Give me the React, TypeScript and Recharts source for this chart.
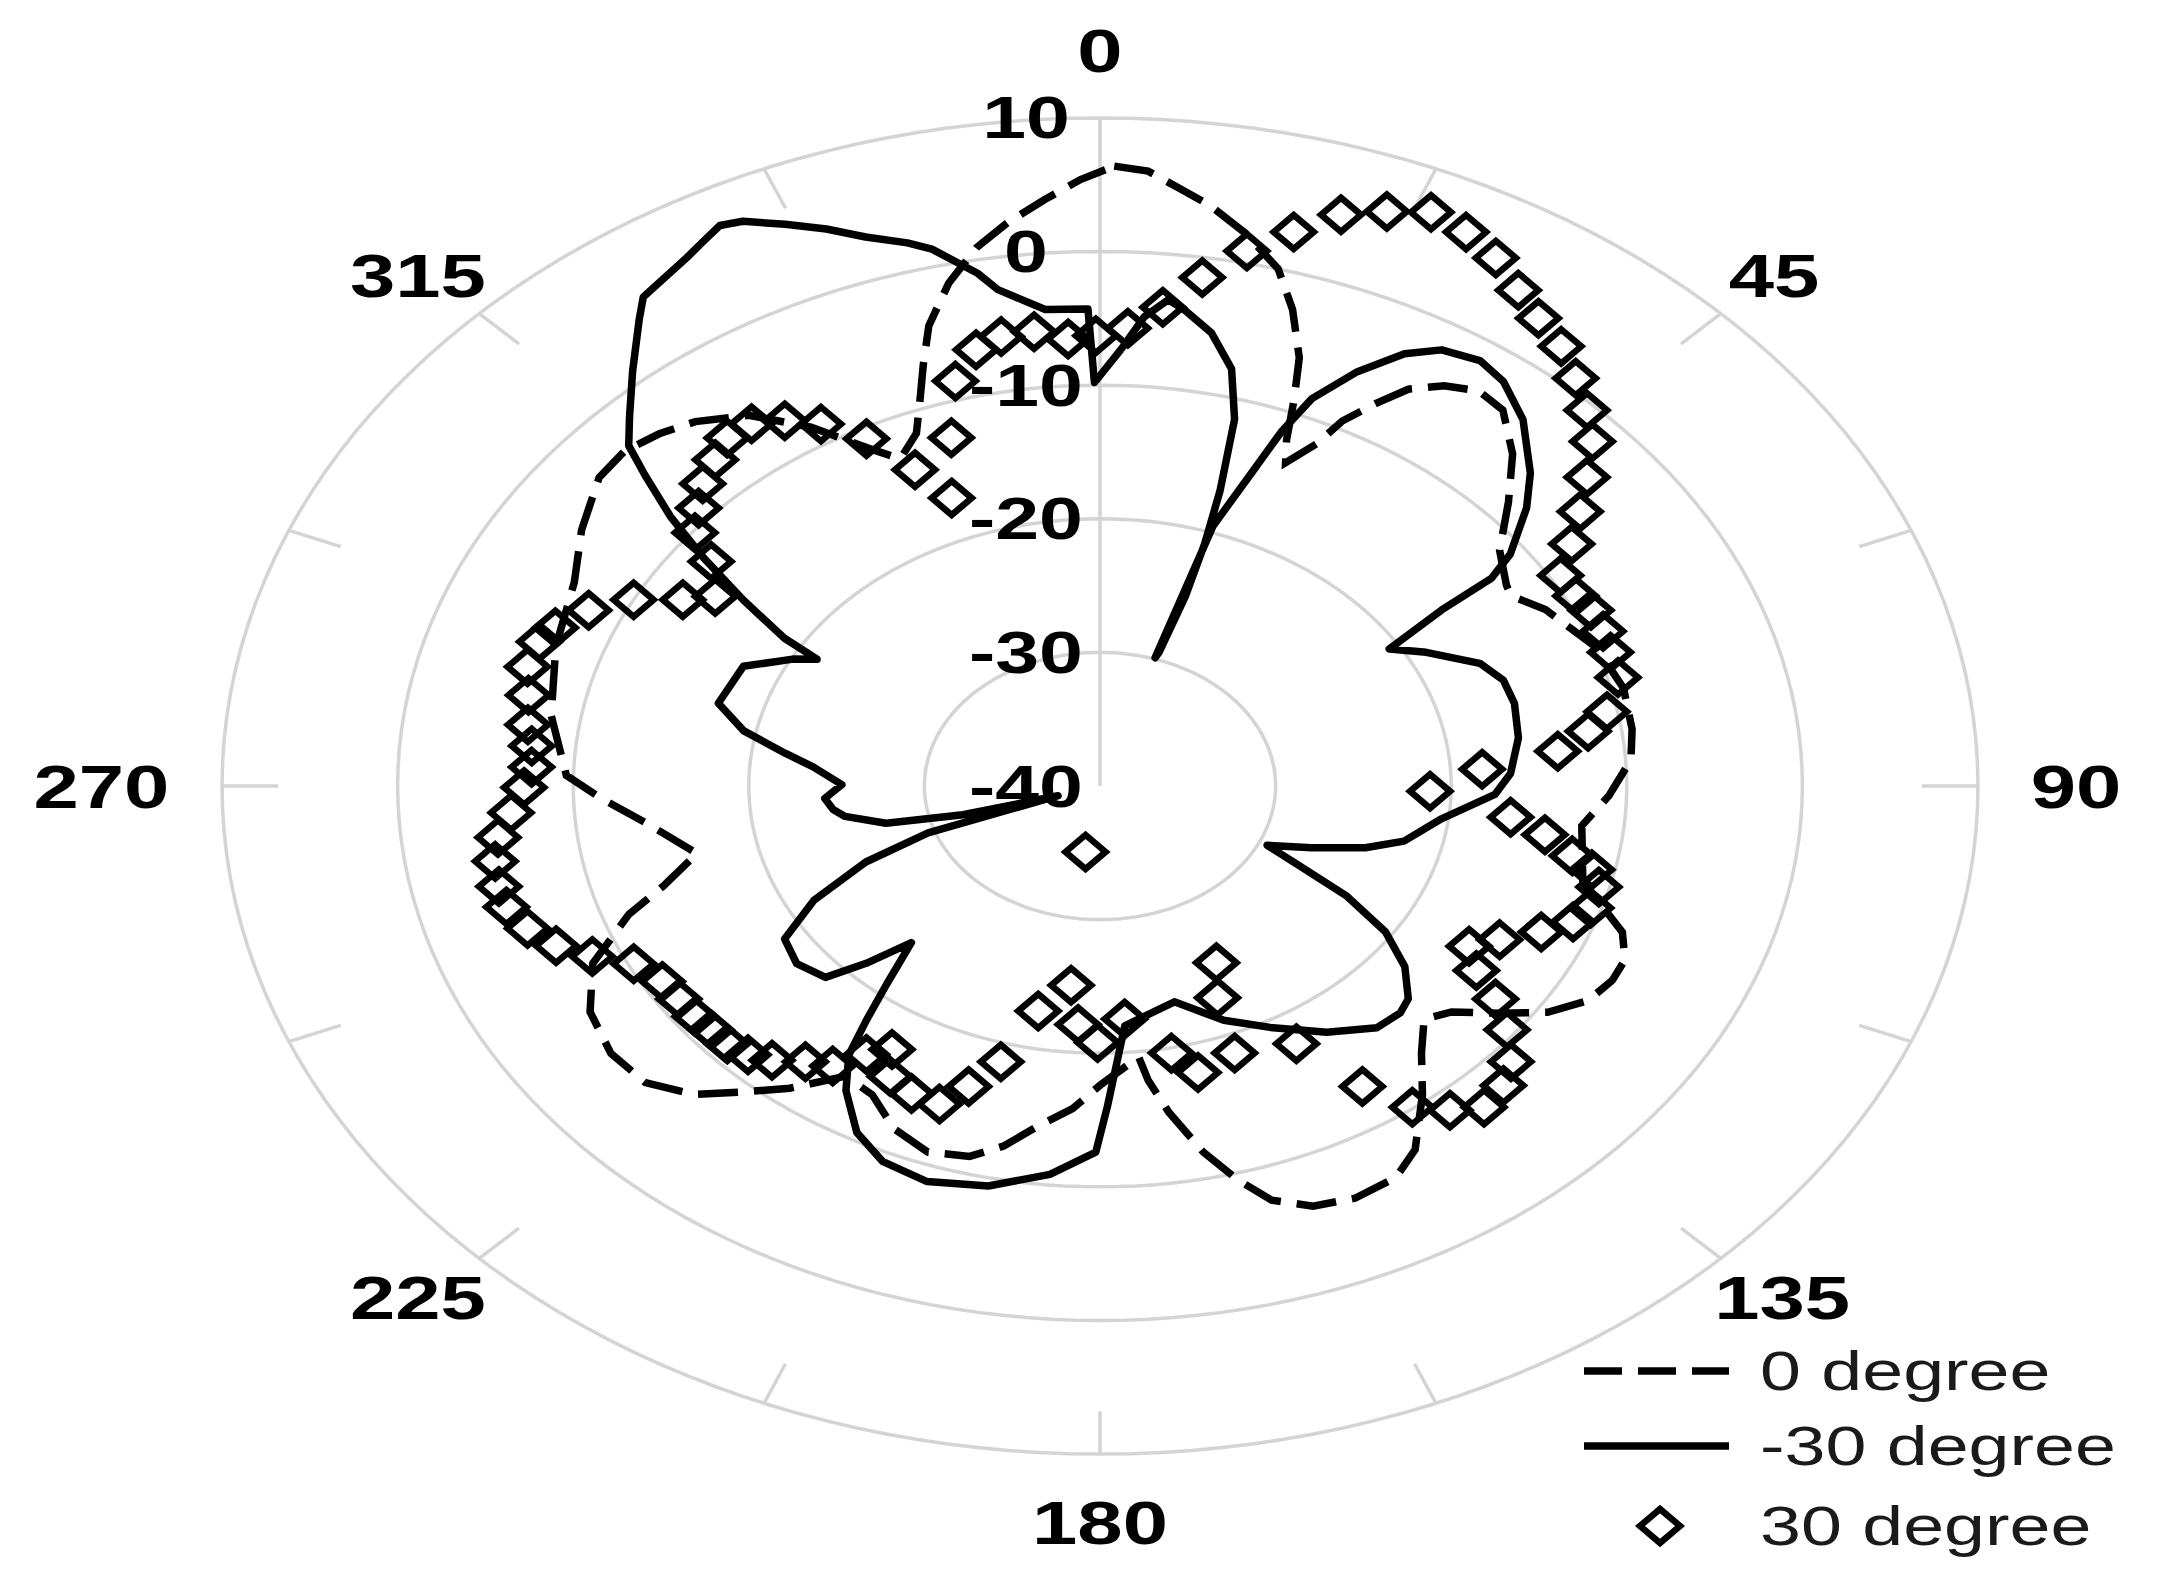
import React from 'react';
import { ComposedChart, Line, Scatter, XAxis, YAxis, Legend } from 'recharts';

// ---------- data (angle in degrees clockwise from top, gain in dB) ----------
const ANGLE_LABELS = [0, 45, 90, 135, 180, 225, 270, 315];
const RADIAL_TICKS = [-40, -30, -20, -10, 0, 10];
const SERIES_NAMES = ['0 degree', '-30 degree', '30 degree'];

const zeroDegree: [number, number][] = [
  [1.0, 6.4], [3.4, 6.1], [5.9, 4.9], [8.2, 3.9], [11.3, 2.2], [14.7, 0.0], [17.1, -2.7], [19.5, -6.0],
  [20.9, -9.0], [22.3, -12.0], [23.6, -13.6], [25.7, -11.6], [26.8, -9.4], [28.8, -7.3], [30.6, -5.5],
  [33.2, -4.2], [36.1, -3.4], [39.2, -3.7], [43.4, -5.8], [47.6, -8.5], [52.2, -11.2], [57.0, -12.4],
  [58.7, -12.6], [62.5, -11.4], [69.8, -9.9], [76.2, -9.3], [82.0, -9.4], [86.3, -9.7], [91.4, -11.0],
  [96.2, -12.4], [104.5, -11.6], [110.2, -8.3], [113.5, -7.4], [116.5, -7.4], [120.0, -7.9], [123.6, -9.4],
  [126.8, -11.6], [130.2, -13.8], [133.4, -14.6], [137.5, -12.9], [141.5, -10.5], [146.6, -7.4], [150.1, -6.2],
  [154.8, -5.9], [158.9, -6.3], [162.5, -7.5], [165.1, -9.5], [167.9, -12.0], [170.9, -15.3], [172.9, -17.8],
  [173.8, -19.6], [180.0, -17.6], [183.7, -15.8], [187.9, -14.3], [191.5, -12.5], [195.0, -11.3], [199.7, -10.9],
  [204.6, -11.8], [209.3, -13.5], [213.7, -13.9], [218.0, -11.3], [221.9, -9.2], [225.1, -7.3], [229.4, -5.9],
  [234.3, -5.7], [239.8, -6.4], [245.3, -8.2], [250.3, -11.5], [253.2, -14.0], [257.6, -16.5], [263.9, -14.0],
  [268.1, -11.6], [271.5, -9.6], [279.6, -8.3], [288.6, -7.3], [297.0, -6.4], [303.0, -4.8], [309.0, -3.3],
  [312.8, -3.1], [316.4, -3.6], [319.8, -4.3], [324.2, -5.8], [328.5, -8.5], [332.3, -11.4], [335.1, -13.0],
  [338.4, -11.6], [340.5, -9.3], [342.3, -6.9], [344.2, -4.2], [347.1, -1.4], [350.1, 0.9], [352.9, 2.5],
  [355.9, 4.0], [358.6, 5.4],
];

const minusThirtyDegree: [number, number][] = [
  [2.1, -7.3], [4.1, -4.8], [6.1, -3.4], [7.6, -4.0], [10.6, -5.5], [13.5, -7.9], [15.6, -11.5], [17.2, -16.9],
  [18.2, -20.9], [18.9, -25.0], [18.6, -29.4], [18.1, -29.9], [18.3, -19.5], [20.2, -15.1], [21.3, -11.5],
  [22.6, -8.6], [25.3, -5.7], [28.2, -3.3], [30.8, -2.0], [34.2, -1.5], [37.2, -2.0], [41.3, -3.5], [46.3, -6.1],
  [49.4, -8.0], [53.4, -10.9], [55.1, -12.8], [55.9, -16.5], [58.1, -20.6], [61.7, -18.9], [67.0, -16.5],
  [71.0, -15.7], [75.3, -15.6], [81.4, -15.9], [87.7, -16.6], [91.6, -17.5], [97.2, -20.4], [103.4, -22.2],
  [107.0, -24.2], [111.0, -27.1], [115.0, -29.5], [117.6, -27.3], [120.4, -23.7], [123.9, -20.4], [127.9, -18.0],
  [132.2, -16.3], [134.8, -15.9], [138.9, -16.0], [145.0, -17.5], [151.8, -19.5], [158.1, -21.1], [165.3, -23.3],
  [175.5, -22.0], [177.5, -19.0], [179.0, -16.0], [180.5, -12.6], [185.6, -10.8], [192.0, -9.4], [198.4, -8.8],
  [203.8, -9.3], [208.1, -10.6], [212.4, -13.0], [215.4, -15.3], [217.2, -18.0], [219.3, -20.8], [222.5, -24.1],
  [225.1, -21.2], [227.5, -18.8], [232.4, -18.2], [237.5, -18.7], [242.3, -21.6], [246.9, -25.5], [250.3, -29.6],
  [253.0, -37.5], [254.6, -31.9], [257.1, -27.5], [261.1, -25.3], [263.4, -24.7], [266.6, -24.3], [270.4, -25.3],
  [275.0, -23.6], [277.8, -21.9], [281.5, -19.3], [285.9, -17.4], [293.8, -17.8], [298.5, -20.1], [300.5, -21.3],
  [301.6, -18.9], [304.4, -15.4], [307.1, -11.7], [309.5, -8.3], [311.9, -5.2], [313.5, -3.0], [315.9, -1.5],
  [319.4, 0.9], [323.1, 3.7], [324.6, 4.9], [329.2, 6.0], [331.0, 6.6], [332.7, 7.2], [334.3, 6.9], [336.9, 5.7],
  [339.5, 4.5], [342.0, 3.2], [344.9, 2.1], [346.6, 1.3], [349.7, -1.0], [351.1, -2.4], [355.0, -4.2],
  [358.9, -4.3], [359.4, -9.8],
];

const thirtyDegree: [number, number][] = [
  [359.6, -6.3], [2.65, -5.7], [5.7, -4.0], [8.7, -1.5], [11.8, 0.9], [14.9, 2.9], [17.8, 4.9], [20.8, 6.0],
  [23.7, 6.9], [26.7, 6.4], [29.7, 5.5], [32.7, 4.1], [35.5, 3.0], [38.6, 2.1], [41.6, 0.8], [44.6, -0.5],
  [47.4, -1.9], [50.2, -3.9], [53.1, -5.8], [56.0, -7.6], [59.0, -9.4], [62.3, -9.4], [64.8, -9.1], [68.0, -9.1],
  [71.0, -9.25], [74.6, -9.4], [79.1, -10.6], [81.6, -11.9], [84.3, -13.8], [86.7, -18.2], [91.2, -21.2],
  [95.7, -16.5], [98.2, -14.4], [101.0, -12.6], [102.6, -11.3], [104.9, -10.6], [108.1, -10.6], [110.7, -11.2],
  [113.5, -12.6], [116.8, -14.5], [119.7, -15.8], [122.8, -14.5], [125.3, -12.4], [128.2, -10.5], [131.4, -8.8],
  [134.3, -7.9], [137.7, -7.5], [140.6, -8.6], [143.5, -10.1], [146.4, -13.0], [149.9, -17.7], [153.4, -25.2],
  [157.1, -22.8], [159.0, -18.6], [165.4, -17.85], [168.5, -19.6], [175.4, -22.5], [180.4, -20.8], [184.0, -22.1],
  [186.3, -25.0], [189.5, -35.0], [191.8, -22.8], [195.3, -18.6], [198.4, -16.3], [201.0, -14.5], [205.0, -14.6],
  [208.8, -15.2], [211.0, -17.0], [213.5, -15.9], [216.0, -14.1], [219.1, -13.4], [222.3, -12.25], [224.9, -11.6],
  [227.7, -11.3], [230.5, -11.3], [233.2, -11.2], [236.4, -11.2], [239.6, -11.1], [243.4, -10.3], [246.2, -8.4],
  [248.9, -6.8], [251.9, -5.7], [255.0, -5.0], [257.6, -4.95], [260.7, -5.1], [263.6, -5.5], [266.6, -6.4],
  [269.8, -7.2], [272.5, -7.6], [275.3, -7.5], [278.0, -7.1], [281.8, -6.75], [285.3, -6.2], [288.7, -6.3],
  [290.9, -6.8], [294.3, -8.05], [297.7, -10.0], [300.4, -12.45], [302.9, -13.9], [307.2, -12.2], [309.4, -10.15],
  [312.3, -9.1], [315.0, -8.0], [318.1, -7.2], [320.8, -6.4], [323.8, -6.4], [326.7, -7.3], [329.6, -8.6],
  [332.9, -10.8], [336.0, -14.1], [338.6, -16.85], [342.0, -12.6], [344.8, -8.6], [347.8, -6.6], [350.5, -5.9],
  [353.7, -5.8], [356.9, -6.5],
];

// ---------- geometry helpers ----------
const R_MIN = RADIAL_TICKS[0];
const R_MAX = RADIAL_TICKS[RADIAL_TICKS.length - 1];
const TICK_STEP = 22.5;
const SX = 1.314; // horizontal stretch of the original figure (x px/unit ÷ y px/unit)

const toXY = (angle: number, gain: number) => {
  const r = gain - R_MIN;
  const t = (angle * Math.PI) / 180;
  return { x: r * Math.sin(t), y: r * Math.cos(t) };
};

const closed = (pts: [number, number][]) => [...pts, pts[0]].map(([a, g]) => toXY(a, g));

const ringData = RADIAL_TICKS.filter((t) => t > R_MIN).map((t) =>
  Array.from({ length: 181 }, (_, i) => toXY(i * 2, t))
);

const tickData: { x: number; y: number | null }[] = [];
for (let a = 0; a < 360; a += TICK_STEP) {
  const p1 = toXY(a, R_MAX);
  const p2 = toXY(a, R_MAX - 3.2);
  tickData.push(p1, p2, { x: p2.x, y: null });
}
const spokeData = [toXY(0, R_MIN), toXY(0, R_MAX)];

const angleLabelData = ANGLE_LABELS.map((a) => ({ ...toXY(a, R_MIN + 53), angle: a, label: String(a) }));
const radialLabelData = RADIAL_TICKS.map((t) => ({ ...toXY(0, t), label: String(t) }));

const zeroData = closed(zeroDegree);
const minusData = closed(minusThirtyDegree);
const thirtyData = thirtyDegree.map(([a, g]) => toXY(a, g));

// ---------- styles ----------
const FONT = "'Liberation Sans', Arial, Helvetica, sans-serif";
const GRID = '#d4d4d4';
const LINE_W = 7.5;
const DASH = '40 16';
const DIA_HW = 20;
const DIA_HH = 17;

const Diamond = (props: any) => {
  const { cx, cy } = props;
  if (cx == null || cy == null) return null;
  return (
    <path
      d={`M${cx},${cy - DIA_HH} L${cx + DIA_HW},${cy} L${cx},${cy + DIA_HH} L${cx - DIA_HW},${cy} Z`}
      fill="none"
      stroke="#000"
      strokeWidth={6.5}
      strokeLinejoin="miter"
    />
  );
};

const cube = (v: number) => Math.sign(v) * Math.pow(Math.abs(v), 3);

const AngleLabel = (props: any) => {
  const { cx, cy, payload } = props;
  const t = (payload.angle * Math.PI) / 180;
  const fs = 62;
  const w = payload.label.length * 0.556 * fs * SX;
  const h = 56;
  const x = cx + cube(Math.sin(t)) * (w / 2);
  const y = cy - cube(Math.cos(t)) * (h / 2);
  return (
    <text
      transform={`translate(${x} ${y}) scale(${SX} 1)`}
      textAnchor="middle"
      dominantBaseline="central"
      fontFamily={FONT}
      fontWeight="bold"
      fontSize={fs}
      fill="#000"
    >
      {payload.label}
    </text>
  );
};

const RadialLabel = (props: any) => {
  const { cx, cy, payload } = props;
  return (
    <text
      transform={`translate(${cx - 74} ${cy}) scale(${SX} 1)`}
      textAnchor="middle"
      dominantBaseline="central"
      fontFamily={FONT}
      fontWeight="bold"
      fontSize={60}
      fill="#000"
    >
      {payload.label}
    </text>
  );
};

const LEGEND_ROW_Y = [41, 116, 196];
const LegendContent = () => (
  <svg width={600} height={240} style={{ display: 'block', overflow: 'visible' }}>
    {SERIES_NAMES.map((name, i) => {
      const y = LEGEND_ROW_Y[i];
      return (
        <g key={name}>
          {i === 0 && <line x1={24} x2={169} y1={y} y2={y} stroke="#000" strokeWidth={LINE_W} strokeDasharray="38 16" />}
          {i === 1 && <line x1={24} x2={169} y1={y} y2={y} stroke="#000" strokeWidth={LINE_W} />}
          {i === 2 && <Diamond cx={100} cy={y} />}
          <text
            transform={`translate(200 ${y}) scale(${SX} 1)`}
            dominantBaseline="central"
            fontFamily={FONT}
            fontSize={56}
            fill="#1a1a1a"
          >
            {name}
          </text>
        </g>
      );
    })}
  </svg>
);

export default function App() {
  return (
    <div style={{ width: 2144, height: 1577, background: '#fff' }}>
      <ComposedChart width={2144} height={1577} margin={{ top: 3, right: 16, bottom: 24, left: 56 }}>
        <XAxis type="number" dataKey="x" domain={[-59, 59]} hide />
        <YAxis type="number" dataKey="y" domain={[-58, 58]} hide />
        {ringData.map((d, i) => (
          <Line
            key={`ring-${i}`}
            data={d}
            dataKey="y"
            stroke={GRID}
            strokeWidth={3.5}
            dot={false}
            activeDot={false}
            legendType="none"
            isAnimationActive={false}
          />
        ))}
        <Line data={tickData} dataKey="y" stroke={GRID} strokeWidth={3.5} dot={false} activeDot={false} legendType="none" isAnimationActive={false} />
        <Line data={spokeData} dataKey="y" stroke={GRID} strokeWidth={3.5} dot={false} activeDot={false} legendType="none" isAnimationActive={false} />
        <Line
          name={SERIES_NAMES[0]}
          data={zeroData}
          dataKey="y"
          stroke="#000"
          strokeWidth={LINE_W}
          strokeDasharray={DASH}
          dot={false}
          activeDot={false}
          isAnimationActive={false}
        />
        <Line
          name={SERIES_NAMES[1]}
          data={minusData}
          dataKey="y"
          stroke="#000"
          strokeWidth={LINE_W}
          strokeLinejoin="round"
          dot={false}
          activeDot={false}
          isAnimationActive={false}
        />
        <Scatter name={SERIES_NAMES[2]} data={thirtyData} shape={<Diamond />} isAnimationActive={false} />
        <Scatter data={angleLabelData} shape={<AngleLabel />} legendType="none" isAnimationActive={false} />
        <Scatter data={radialLabelData} shape={<RadialLabel />} legendType="none" isAnimationActive={false} />
        <Legend
          layout="vertical"
          align="center"
          verticalAlign="middle"
          content={<LegendContent />}
          wrapperStyle={{ position: 'absolute', left: 1552, top: 1322, width: 600, height: 240 }}
        />
      </ComposedChart>
    </div>
  );
}
